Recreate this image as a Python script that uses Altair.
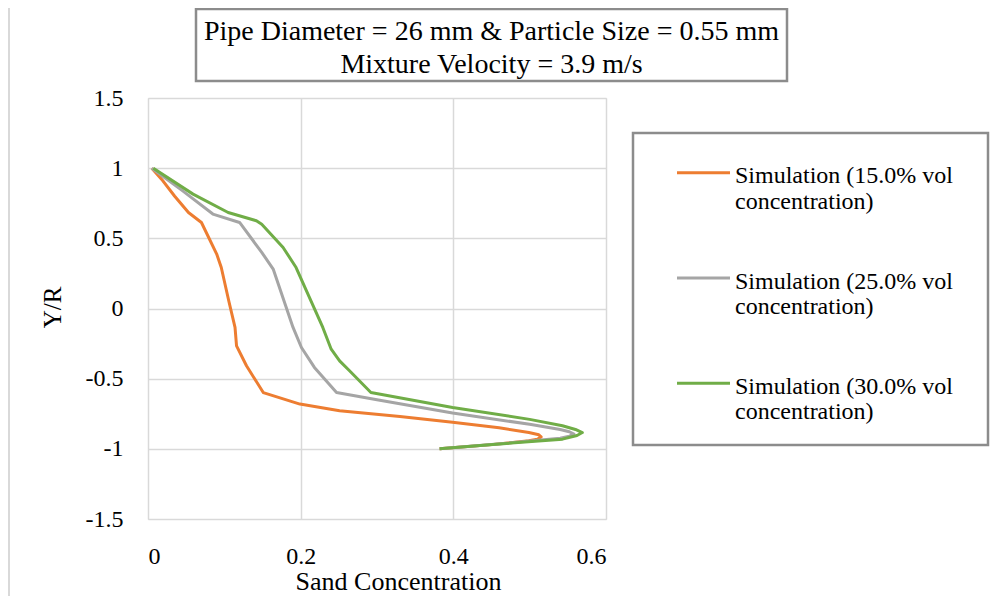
import altair as alt
import pandas as pd

series_names = [
    "Simulation (15.0% vol concentration)",
    "Simulation (25.0% vol concentration)",
    "Simulation (30.0% vol concentration)",
]
series_colors = ["#ED7D31", "#A5A5A5", "#70AD47"]

x15 = [0.005, 0.018, 0.035, 0.053, 0.070, 0.090, 0.096, 0.106, 0.114, 0.116, 0.129, 0.151, 0.199, 0.251, 0.330, 0.399, 0.460, 0.499, 0.512, 0.515, 0.510, 0.499, 0.450, 0.382]
y15 = [1.000, 0.920, 0.800, 0.684, 0.613, 0.388, 0.292, 0.050, -0.135, -0.266, -0.408, -0.599, -0.681, -0.729, -0.770, -0.810, -0.850, -0.884, -0.900, -0.915, -0.932, -0.943, -0.970, -1.000]

x25 = [0.005, 0.045, 0.085, 0.120, 0.149, 0.164, 0.190, 0.201, 0.218, 0.247, 0.300, 0.399, 0.500, 0.540, 0.552, 0.558, 0.552, 0.540, 0.470, 0.382]
y25 = [1.000, 0.840, 0.673, 0.613, 0.400, 0.281, -0.135, -0.278, -0.420, -0.599, -0.650, -0.745, -0.825, -0.862, -0.878, -0.895, -0.910, -0.925, -0.960, -1.000]

x30 = [0.007, 0.059, 0.105, 0.142, 0.149, 0.177, 0.194, 0.229, 0.240, 0.251, 0.264, 0.292, 0.399, 0.500, 0.543, 0.560, 0.569, 0.562, 0.543, 0.456, 0.382]
y30 = [1.000, 0.815, 0.684, 0.625, 0.600, 0.435, 0.292, -0.135, -0.290, -0.373, -0.444, -0.599, -0.706, -0.790, -0.836, -0.862, -0.884, -0.905, -0.931, -0.967, -1.000]

x_ticks = [0, 0.2, 0.4, 0.6]
y_ticks = [-1.5, -1, -0.5, 0, 0.5, 1, 1.5]

title_lines = ["Pipe Diameter = 26 mm & Particle Size = 0.55 mm", "Mixture Velocity = 3.9 m/s"]
x_title = "Sand Concentration"
y_title = "Y/R"

rows = []
for name, xs, ys in zip(series_names, [x15, x25, x30], [y15, y25, y30]):
    for i, (xv, yv) in enumerate(zip(xs, ys)):
        rows.append({"series": name, "x": xv, "y": yv, "idx": i})
df = pd.DataFrame(rows)

FONT = "Liberation Serif, Times New Roman, DejaVu Serif, serif"
W, H = 458, 421

lines = alt.Chart(df).mark_line(interpolate="linear", strokeWidth=3, strokeJoin="round").encode(
    x=alt.X("x:Q", scale=alt.Scale(domain=[0, 0.6], nice=False),
            axis=alt.Axis(values=x_ticks, title=x_title, labelExpr="toString(datum.value)",
                          ticks=False, domain=False, grid=True, gridColor="#d9d9d9", gridWidth=1.5,
                          labelBaseline="alphabetic", labelPadding=44, labelFontSize=24,
                          labelFont=FONT, labelColor="#000", titleFont=FONT, titleFontSize=26,
                          titleFontWeight="normal", titleColor="#000", titleX=250, titleY=70,
                          titleBaseline="alphabetic", titleAlign="center")),
    y=alt.Y("y:Q", scale=alt.Scale(domain=[-1.5, 1.5], nice=False),
            axis=alt.Axis(values=y_ticks, title=y_title, labelExpr="toString(datum.value)",
                          ticks=False, domain=False, grid=True, gridColor="#d9d9d9", gridWidth=1.5,
                          labelPadding=25, labelFontSize=24, labelFont=FONT, labelColor="#000",
                          titleFont=FONT, titleFontSize=25, titleFontWeight="normal", titleColor="#000",
                          titleX=-96, titleY=209, titleAngle=-90, titleBaseline="middle",
                          titleAlign="center")),
    color=alt.Color("series:N", scale=alt.Scale(domain=series_names, range=series_colors), legend=None),
    order="idx:Q",
)

layers = [lines]

# title box
box_df = pd.DataFrame({"k": [0]})
layers.append(alt.Chart(box_df).mark_rect(fillOpacity=0, stroke="#8c8c8c", strokeWidth=2.5).encode(
    x=alt.value(48), x2=alt.value(639), y=alt.value(-89), y2=alt.value(-17)))
for line, yy in zip(title_lines, [-58.5, -25.3]):
    layers.append(alt.Chart(pd.DataFrame({"t": [line]})).mark_text(
        font=FONT, fontSize=28, align="center", baseline="alphabetic", color="#000").encode(
        text="t:N", x=alt.value(343.5), y=alt.value(yy)))

# legend box
layers.append(alt.Chart(box_df).mark_rect(fillOpacity=0, stroke="#8c8c8c", strokeWidth=2.5).encode(
    x=alt.value(485), x2=alt.value(840), y=alt.value(35), y2=alt.value(347)))
for i, (name, col) in enumerate(zip(series_names, series_colors)):
    y0 = 74.7 + i * 105.3
    ldf = pd.DataFrame({"t": [name.replace(" vol ", " vol\n")]})
    layers.append(alt.Chart(ldf).mark_rule(strokeWidth=3, color=col).encode(
        x=alt.value(529), x2=alt.value(582), y=alt.value(y0)))
    layers.append(alt.Chart(ldf).mark_text(
        font=FONT, fontSize=24, align="left", baseline="alphabetic", color="#000",
        lineBreak="\n", lineHeight=25.7).encode(
        text="t:N", x=alt.value(587), y=alt.value(y0 + 10.5)))

# outer chart border (left edge)
layers.append(alt.Chart(box_df).mark_rule(color="#d9d9d9", strokeWidth=2).encode(
    x=alt.value(-139), y=alt.value(-90), y2=alt.value(H + 77)))

chart = alt.layer(*layers).properties(
    width=W, height=H,
    autosize=alt.AutoSizeParams(type="none"),
    padding={"left": 140, "top": 90, "right": 385, "bottom": 77},
).configure_view(stroke="#a6a6a6", strokeWidth=2).configure(background="white")

chart.save("out.html", embed_options={"renderer": "svg", "actions": False})
